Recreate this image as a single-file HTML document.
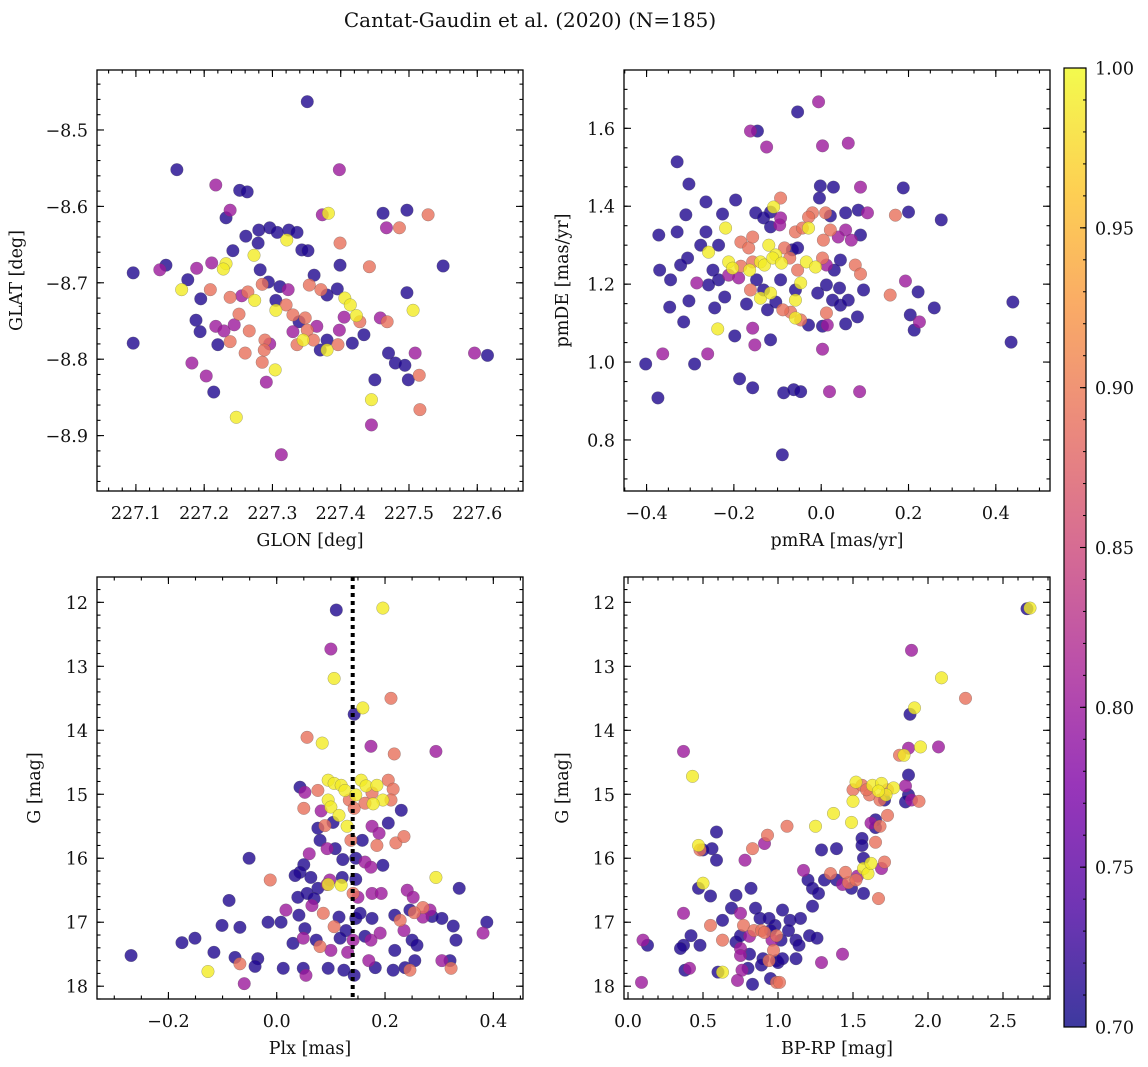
<!DOCTYPE html>
<html><head><meta charset="utf-8"><style>
html,body{margin:0;padding:0;background:#fff}
svg{display:block}
text{font-family:"DejaVu Serif","Liberation Serif",serif;fill:#111}
</style></head><body>
<svg id="fig" width="1148" height="1067" viewBox="0 0 1148 1067" xmlns="http://www.w3.org/2000/svg">
<defs>
<linearGradient id="cbgrad" x1="0" y1="1" x2="0" y2="0">
<stop offset="0" stop-color="#0d0887"/><stop offset="0.125" stop-color="#4c02a1"/><stop offset="0.25" stop-color="#7e03a8"/><stop offset="0.375" stop-color="#a92395"/><stop offset="0.5" stop-color="#cc4778"/><stop offset="0.625" stop-color="#e66c5c"/><stop offset="0.75" stop-color="#f89540"/><stop offset="0.875" stop-color="#fdc527"/><stop offset="1" stop-color="#f0f921"/>
</linearGradient>
</defs>
<text x="530" y="27" font-size="20" text-anchor="middle">Cantat-Gaudin et al. (2020) (N=185)</text>
</svg>
<script>
// ---- data (value units) ----
const skyData = [
[227.351,-8.463,0.71],[227.160,-8.552,0.71],[227.217,-8.572,0.80],[227.252,-8.579,0.71],[227.263,-8.581,0.71],[227.398,-8.552,0.80],[227.462,-8.609,0.71],[227.382,-8.609,0.99],[227.373,-8.611,0.80],[227.528,-8.611,0.89],
[227.238,-8.605,0.80],[227.232,-8.615,0.71],[227.261,-8.639,0.71],[227.280,-8.631,0.71],[227.296,-8.628,0.71],[227.324,-8.631,0.71],[227.336,-8.634,0.71],[227.307,-8.634,0.71],[227.321,-8.644,0.99],[227.399,-8.648,0.89],
[227.467,-8.628,0.80],[227.486,-8.628,0.89],[227.497,-8.605,0.71],[227.279,-8.648,0.71],[227.343,-8.657,0.71],[227.352,-8.658,0.71],[227.242,-8.658,0.71],[227.273,-8.664,0.99],[227.211,-8.674,0.80],[227.232,-8.675,0.99],
[227.228,-8.682,0.99],[227.189,-8.681,0.80],[227.144,-8.677,0.71],[227.096,-8.687,0.71],[227.096,-8.779,0.71],[227.135,-8.683,0.80],[227.167,-8.709,0.99],[227.176,-8.696,0.71],[227.209,-8.709,0.89],[227.195,-8.721,0.71],
[227.238,-8.719,0.89],[227.274,-8.723,0.99],[227.264,-8.712,0.89],[227.255,-8.717,0.80],[227.282,-8.683,0.71],[227.294,-8.699,0.71],[227.285,-8.702,0.89],[227.311,-8.705,0.71],[227.323,-8.709,0.80],[227.354,-8.703,0.89],
[227.361,-8.690,0.71],[227.371,-8.709,0.89],[227.380,-8.716,0.71],[227.399,-8.677,0.71],[227.395,-8.708,0.71],[227.406,-8.720,0.99],[227.414,-8.729,0.99],[227.423,-8.743,0.99],[227.405,-8.745,0.80],[227.442,-8.679,0.89],
[227.458,-8.746,0.80],[227.468,-8.751,0.89],[227.497,-8.713,0.71],[227.506,-8.736,0.99],[227.550,-8.678,0.71],[227.188,-8.749,0.71],[227.194,-8.764,0.71],[227.217,-8.757,0.80],[227.229,-8.763,0.80],[227.244,-8.755,0.80],
[227.251,-8.741,0.89],[227.266,-8.763,0.89],[227.289,-8.775,0.89],[227.288,-8.788,0.89],[227.296,-8.780,0.80],[227.305,-8.723,0.71],[227.305,-8.736,0.99],[227.320,-8.729,0.89],[227.330,-8.742,0.89],[227.339,-8.751,0.71],
[227.348,-8.746,0.89],[227.351,-8.762,0.89],[227.360,-8.775,0.89],[227.365,-8.757,0.80],[227.330,-8.764,0.80],[227.336,-8.781,0.89],[227.345,-8.775,0.99],[227.380,-8.775,0.71],[227.380,-8.788,0.99],[227.396,-8.781,0.89],
[227.398,-8.762,0.80],[227.428,-8.751,0.89],[227.434,-8.768,0.71],[227.238,-8.777,0.89],[227.260,-8.792,0.89],[227.285,-8.804,0.89],[227.304,-8.814,0.99],[227.291,-8.830,0.80],[227.220,-8.781,0.71],[227.182,-8.805,0.80],
[227.203,-8.822,0.80],[227.214,-8.843,0.71],[227.370,-8.788,0.71],[227.417,-8.779,0.71],[227.470,-8.792,0.71],[227.450,-8.827,0.71],[227.509,-8.792,0.80],[227.515,-8.821,0.89],[227.480,-8.805,0.71],[227.494,-8.808,0.71],
[227.499,-8.827,0.71],[227.516,-8.866,0.89],[227.596,-8.792,0.80],[227.615,-8.795,0.71],[227.445,-8.853,0.99],[227.445,-8.886,0.80],[227.247,-8.876,0.99],[227.313,-8.925,0.80]
];
const pmData = [
[-0.006,1.668,0.80],[-0.054,1.642,0.71],[0.003,1.555,0.80],[-0.162,1.593,0.80],[-0.146,1.593,0.71],[-0.125,1.552,0.80],[-0.330,1.514,0.71],[-0.303,1.457,0.71],[-0.264,1.411,0.71],[0.062,1.562,0.80],
[-0.002,1.452,0.71],[0.028,1.449,0.71],[0.090,1.449,0.80],[0.188,1.447,0.71],[-0.109,1.398,0.99],[-0.116,1.385,0.71],[-0.093,1.421,0.89],[-0.196,1.416,0.71],[-0.004,1.421,0.71],[0.085,1.390,0.71],
[0.200,1.385,0.71],[0.170,1.377,0.89],[0.106,1.383,0.80],[0.056,1.383,0.71],[-0.020,1.383,0.89],[-0.029,1.372,0.89],[0.010,1.383,0.89],[0.021,1.375,0.71],[-0.093,1.370,0.80],[-0.150,1.383,0.71],
[-0.132,1.370,0.71],[-0.226,1.380,0.71],[0.275,1.365,0.71],[-0.310,1.378,0.71],[-0.372,1.326,0.71],[-0.330,1.334,0.71],[-0.264,1.334,0.71],[-0.219,1.344,0.99],[-0.116,1.347,0.71],[-0.095,1.352,0.80],
[-0.059,1.334,0.89],[-0.043,1.344,0.89],[-0.029,1.344,0.99],[0.056,1.339,0.80],[0.021,1.339,0.89],[0.039,1.321,0.80],[0.069,1.313,0.80],[0.090,1.326,0.71],[0.005,1.313,0.89],[-0.276,1.300,0.71],
[-0.235,1.300,0.71],[-0.258,1.282,0.99],[-0.184,1.308,0.89],[-0.166,1.293,0.89],[-0.157,1.321,0.89],[-0.306,1.267,0.71],[-0.322,1.249,0.71],[-0.370,1.236,0.71],[-0.120,1.300,0.99],[-0.084,1.293,0.89],
[-0.104,1.275,0.99],[-0.066,1.288,0.71],[-0.054,1.293,0.71],[-0.139,1.257,0.99],[-0.130,1.249,0.99],[-0.111,1.267,0.99],[-0.091,1.254,0.99],[-0.072,1.267,0.89],[-0.054,1.236,0.89],[-0.034,1.257,0.99],
[-0.013,1.244,0.99],[0.003,1.267,0.89],[0.012,1.249,0.80],[0.044,1.262,0.71],[0.030,1.236,0.71],[0.078,1.249,0.89],[0.090,1.226,0.89],[-0.212,1.257,0.99],[-0.203,1.241,0.99],[-0.184,1.246,0.89],
[-0.164,1.236,0.99],[-0.157,1.257,0.89],[-0.212,1.223,0.80],[-0.189,1.216,0.80],[-0.248,1.236,0.71],[-0.235,1.211,0.71],[-0.258,1.198,0.71],[-0.345,1.211,0.71],[-0.285,1.203,0.80],[-0.148,1.211,0.71],
[-0.132,1.185,0.71],[-0.139,1.164,0.99],[-0.116,1.177,0.99],[-0.093,1.211,0.71],[-0.059,1.185,0.71],[-0.059,1.159,0.99],[-0.047,1.203,0.99],[-0.008,1.177,0.71],[0.012,1.198,0.71],[0.042,1.190,0.71],
[0.026,1.159,0.71],[0.044,1.146,0.71],[0.062,1.159,0.71],[0.097,1.185,0.71],[0.158,1.172,0.89],[0.193,1.208,0.80],[0.222,1.180,0.71],[0.204,1.121,0.71],[-0.162,1.185,0.89],[-0.221,1.167,0.71],
[-0.244,1.139,0.71],[-0.303,1.157,0.71],[-0.347,1.141,0.71],[-0.171,1.149,0.71],[-0.123,1.134,0.71],[-0.070,1.128,0.89],[-0.047,1.108,0.89],[-0.059,1.113,0.99],[-0.029,1.095,0.71],[0.012,1.126,0.89],
[-0.104,1.154,0.71],[-0.088,1.134,0.89],[0.003,1.092,0.71],[0.014,1.095,0.80],[0.083,1.116,0.71],[0.056,1.098,0.71],[-0.315,1.103,0.71],[-0.237,1.085,0.99],[-0.198,1.067,0.71],[-0.157,1.087,0.80],
[-0.116,1.057,0.71],[-0.152,1.044,0.80],[0.259,1.139,0.71],[0.213,1.082,0.71],[0.225,1.103,0.80],[-0.260,1.021,0.80],[-0.290,0.995,0.71],[-0.363,1.021,0.80],[-0.402,0.995,0.71],[-0.187,0.957,0.71],
[-0.157,0.934,0.71],[-0.086,0.921,0.71],[-0.063,0.929,0.71],[-0.047,0.924,0.71],[0.003,1.033,0.80],[0.019,0.924,0.80],[0.088,0.924,0.80],[0.439,1.154,0.71],[0.435,1.051,0.71],[-0.374,0.908,0.71],[-0.089,0.762,0.71]
];
const plxData = [
[0.110,12.12,0.71],[0.196,12.09,0.99],[0.100,12.73,0.80],[0.106,13.19,0.99],[0.211,13.50,0.89],[0.159,13.65,0.99],[0.143,13.75,0.71],[0.056,14.11,0.89],[0.084,14.20,0.99],[0.174,14.25,0.80],
[0.294,14.33,0.80],[0.217,14.37,0.89],[0.043,14.89,0.71],[0.052,14.97,0.80],[0.076,14.94,0.89],[0.095,14.78,0.99],[0.106,14.83,0.99],[0.119,14.86,0.99],[0.126,14.94,0.99],[0.146,15.01,0.99],
[0.156,14.78,0.99],[0.165,14.87,0.99],[0.134,15.09,0.89],[0.143,15.22,0.89],[0.163,15.14,0.89],[0.185,14.86,0.99],[0.206,14.78,0.89],[0.215,14.92,0.89],[0.196,15.09,0.99],[0.211,15.09,0.89],
[0.176,14.98,0.89],[0.178,15.15,0.99],[0.095,15.09,0.99],[0.100,15.20,0.99],[0.050,15.22,0.89],[0.082,15.26,0.80],[0.115,15.33,0.99],[0.230,15.25,0.71],[0.076,15.53,0.71],[0.089,15.49,0.89],
[0.104,15.44,0.71],[0.130,15.50,0.99],[0.176,15.50,0.80],[0.189,15.61,0.80],[0.185,15.80,0.89],[0.158,15.72,0.71],[0.137,15.72,0.89],[0.206,15.45,0.71],[0.080,15.72,0.71],[0.093,15.85,0.80],
[0.060,15.93,0.80],[0.220,15.76,0.89],[0.235,15.66,0.89],[0.108,15.85,0.71],[0.122,16.02,0.71],[0.146,16.00,0.71],[-0.051,16.00,0.71],[0.163,16.06,0.80],[0.174,16.14,0.80],[0.196,16.11,0.71],
[0.050,16.10,0.71],[0.043,16.22,0.71],[0.034,16.27,0.71],[0.063,16.30,0.71],[0.098,16.34,0.80],[0.121,16.30,0.71],[0.146,16.33,0.71],[0.076,16.47,0.71],[0.093,16.41,0.80],[-0.012,16.34,0.89],
[0.294,16.30,0.99],[0.095,16.41,0.99],[0.119,16.42,0.99],[0.141,16.55,0.89],[0.150,16.61,0.80],[0.039,16.61,0.71],[0.056,16.55,0.71],[0.069,16.63,0.71],[0.337,16.47,0.71],[0.241,16.50,0.80],
[0.252,16.61,0.80],[0.176,16.55,0.80],[0.193,16.55,0.80],[-0.088,16.66,0.71],[0.017,16.81,0.80],[0.065,16.74,0.80],[0.086,16.86,0.89],[0.270,16.77,0.89],[0.283,16.81,0.80],[0.246,16.81,0.71],
[0.254,16.85,0.89],[0.287,16.91,0.71],[0.305,16.94,0.71],[0.218,16.89,0.71],[0.228,16.97,0.89],[0.176,16.94,0.71],[0.146,16.94,0.71],[0.115,16.92,0.71],[0.154,16.86,0.71],[-0.016,17.00,0.71],
[0.008,17.00,0.71],[0.041,16.89,0.71],[0.106,17.07,0.89],[0.128,17.13,0.71],[0.052,17.10,0.71],[0.388,17.00,0.71],[0.270,16.92,0.80],[-0.101,17.05,0.71],[-0.068,17.08,0.71],[-0.151,17.25,0.71],
[-0.175,17.32,0.71],[0.326,17.06,0.71],[0.331,17.28,0.71],[0.049,17.25,0.80],[0.073,17.28,0.71],[0.080,17.38,0.89],[0.117,17.25,0.71],[0.141,17.28,0.80],[0.163,17.22,0.71],[0.174,17.28,0.80],
[0.191,17.17,0.80],[0.235,17.13,0.80],[0.250,17.28,0.71],[0.381,17.17,0.80],[-0.116,17.47,0.71],[-0.077,17.55,0.71],[-0.035,17.57,0.71],[0.030,17.33,0.71],[0.100,17.44,0.80],[0.131,17.47,0.80],
[0.170,17.60,0.80],[0.218,17.44,0.71],[0.259,17.36,0.71],[0.305,17.60,0.80],[0.320,17.60,0.71],[-0.068,17.65,0.89],[-0.040,17.69,0.71],[0.012,17.72,0.71],[0.049,17.72,0.71],[0.054,17.83,0.80],
[0.095,17.72,0.71],[0.124,17.75,0.71],[0.143,17.83,0.71],[0.182,17.71,0.71],[0.215,17.75,0.71],[0.237,17.71,0.71],[0.246,17.75,0.89],[0.255,17.60,0.71],[-0.269,17.52,0.71],[-0.127,17.77,0.99],
[-0.060,17.96,0.80],[0.322,17.72,0.89]
];
const cmdData = [
[2.66,12.10,0.71],[2.68,12.09,0.99],[1.89,12.75,0.80],[2.09,13.18,0.99],[2.25,13.50,0.89],[1.91,13.65,0.99],[1.88,13.75,0.71],[0.37,14.33,0.80],[0.43,14.72,0.99],[1.95,14.26,0.99],
[1.87,14.28,0.80],[1.84,14.39,0.99],[1.81,14.39,0.89],[1.87,14.70,0.71],[2.07,14.26,0.80],[1.52,14.81,0.99],[1.50,14.93,0.89],[1.50,15.11,0.99],[1.63,14.86,0.99],[1.61,15.01,0.89],
[1.69,14.83,0.99],[1.73,14.93,0.89],[1.77,14.90,0.99],[1.68,15.09,0.89],[1.72,15.01,0.99],[1.56,14.86,0.89],[1.59,14.93,0.89],[1.67,14.95,0.99],[1.87,15.01,0.71],[1.85,15.12,0.71],
[1.89,15.09,0.80],[1.85,14.87,0.80],[1.94,15.11,0.89],[1.37,15.30,0.99],[1.49,15.44,0.99],[1.71,15.09,0.71],[1.65,15.40,0.71],[1.73,15.33,0.89],[1.62,15.45,0.80],[1.68,15.50,0.89],
[1.65,15.52,0.71],[1.65,15.75,0.89],[1.06,15.50,0.89],[1.25,15.50,0.99],[0.93,15.64,0.89],[0.83,15.85,0.89],[0.78,16.03,0.80],[0.47,15.80,0.99],[0.59,15.59,0.71],[0.56,15.85,0.71],
[1.56,15.69,0.71],[1.71,16.06,0.89],[0.50,15.87,0.71],[0.59,16.03,0.71],[0.48,15.87,0.89],[1.29,15.87,0.71],[1.39,15.85,0.71],[1.56,15.80,0.71],[1.57,16.00,0.71],[1.57,16.16,0.99],
[1.53,16.28,0.80],[1.60,16.24,0.99],[1.62,16.08,0.99],[1.17,16.19,0.80],[0.91,15.77,0.80],[0.50,16.39,0.99],[0.47,16.47,0.71],[1.35,16.24,0.89],[1.39,16.34,0.71],[1.43,16.41,0.80],
[1.47,16.38,0.89],[1.52,16.34,0.89],[1.45,16.22,0.89],[1.69,16.16,0.80],[1.67,16.63,0.89],[1.57,16.55,0.71],[1.49,16.47,0.71],[1.20,16.34,0.71],[1.31,16.34,0.71],[1.23,16.47,0.71],
[1.27,16.55,0.71],[1.23,16.75,0.71],[0.55,16.59,0.71],[0.72,16.58,0.71],[0.82,16.47,0.71],[0.75,16.86,0.80],[0.69,16.78,0.71],[0.37,16.86,0.80],[0.10,17.28,0.80],[0.13,17.36,0.71],
[0.63,16.97,0.71],[0.85,16.78,0.71],[0.88,16.94,0.71],[0.94,16.94,0.71],[0.98,17.05,0.71],[1.03,16.81,0.71],[1.08,16.97,0.71],[1.15,16.94,0.71],[1.07,17.13,0.71],[0.95,17.13,0.71],
[0.99,17.21,0.89],[0.96,17.28,0.80],[1.02,17.28,0.71],[1.12,17.28,0.71],[1.14,17.36,0.71],[1.21,17.21,0.71],[1.26,17.25,0.71],[0.55,17.05,0.89],[0.77,17.05,0.89],[0.84,17.13,0.89],
[0.89,17.13,0.89],[0.91,17.16,0.89],[0.81,17.22,0.80],[0.42,17.21,0.71],[0.48,17.36,0.71],[0.63,17.28,0.89],[0.72,17.31,0.71],[0.75,17.21,0.71],[0.75,17.41,0.80],[0.97,17.44,0.89],
[0.81,17.50,0.71],[0.75,17.52,0.80],[0.90,17.57,0.71],[0.99,17.60,0.71],[1.29,17.63,0.80],[1.43,17.50,0.80],[0.94,17.60,0.89],[0.37,17.36,0.71],[0.35,17.41,0.71],[0.41,17.72,0.80],
[0.38,17.75,0.71],[0.60,17.78,0.71],[0.63,17.78,0.99],[0.76,17.75,0.80],[0.80,17.72,0.71],[0.89,17.67,0.71],[1.00,17.63,0.71],[1.03,17.57,0.71],[1.12,17.57,0.71],[0.73,17.91,0.80],
[0.83,17.97,0.71],[0.99,17.94,0.89],[1.01,17.94,0.89],[0.95,17.88,0.71],[0.09,17.94,0.80]
];
const plxCluster = 0.1403;
const glonTicks = [227.1,227.2,227.3,227.4,227.5,227.6];
const glatTicks = [-8.5,-8.6,-8.7,-8.8,-8.9];
const pmraTicks = [-0.4,-0.2,0.0,0.2,0.4];
const pmdeTicks = [0.8,1.0,1.2,1.4,1.6];
const plxTicks = [-0.2,0.0,0.2,0.4];
const gTicks = [12,13,14,15,16,17,18];
const bprpTicks = [0.0,0.5,1.0,1.5,2.0,2.5];
const cbTicks = [0.70,0.75,0.80,0.85,0.90,0.95,1.00];

// ---- helpers ----
const NS = 'http://www.w3.org/2000/svg';
const svg = document.getElementById('fig');
const FS = 17.5;
function mk(tag, attrs, parent){const e=document.createElementNS(NS,tag);for(const k in attrs)e.setAttribute(k,attrs[k]);(parent||svg).appendChild(e);return e;}
const stops=[[0,[13,8,135]],[0.125,[76,2,161]],[0.25,[126,3,168]],[0.375,[169,35,149]],[0.5,[204,71,120]],[0.625,[230,108,92]],[0.75,[248,149,64]],[0.875,[253,197,39]],[1,[240,249,33]]];
function plasma(v){let t=(v-0.7)/0.3;t=Math.max(0,Math.min(1,t));for(let i=1;i<stops.length;i++){if(t<=stops[i][0]){const a=stops[i-1],b=stops[i];const f=(t-a[0])/(b[0]-a[0]);const c=a[1].map((x,j)=>Math.round(x+(b[1][j]-x)*f));return 'rgb('+c.join(',')+')';}}return 'rgb(240,249,33)';}
function fmt(v,d){return (v<0?'\u2212':'')+Math.abs(v).toFixed(d);}

function panel(cfg){
  const g=mk('g',{});
  
  
  const L=cfg.L,R=cfg.R,T=cfg.T,B=cfg.B;
  const sx=v=>L+(v-cfg.x0)/(cfg.x1-cfg.x0)*(R-L);
  const sy=v=>cfg.yinv? T+(v-cfg.y0)/(cfg.y1-cfg.y0)*(B-T) : B-(v-cfg.y0)/(cfg.y1-cfg.y0)*(B-T);
  const pts=cfg.data.slice().sort((a,b)=>a[2]-b[2]);
  const pg=mk('g',{},g);
  
  
  pts.forEach(p=>{
    const c=mk('circle',{cx:sx(p[0]),cy:sy(p[1]),r:6.3,fill:plasma(p[2]),'fill-opacity':0.8,stroke:'#555','stroke-opacity':0.5,'stroke-width':0.5},pg);
    
    
  });
  if(cfg.vline!==undefined){
    const l=mk('line',{x1:sx(cfg.vline),x2:sx(cfg.vline),y1:T,y2:B,stroke:'#000','stroke-width':4,'stroke-dasharray':'4,4'},g);
    
    
  }
  const fr=mk('rect',{x:L,y:T,width:R-L,height:B-T,fill:'none',stroke:'#000','stroke-width':1.3},g);
  
  
  const tg=mk('g',{stroke:'#000','stroke-width':1.1},g);
  const minorX=[],minorY=[];
  for(let v=Math.ceil(cfg.x0/cfg.mx)*cfg.mx;v<=cfg.x1;v+=cfg.mx)minorX.push(v);
  for(let v=Math.ceil(Math.min(cfg.y0,cfg.y1)/cfg.my)*cfg.my;v<=Math.max(cfg.y0,cfg.y1);v+=cfg.my)minorY.push(v);
  minorX.forEach(v=>{const x=sx(v);mk('line',{x1:x,x2:x,y1:B,y2:B-3.5},tg);mk('line',{x1:x,x2:x,y1:T,y2:T+3.5},tg);});
  minorY.forEach(v=>{const y=sy(v);mk('line',{x1:L,x2:L+3.5,y1:y,y2:y},tg);mk('line',{x1:R,x2:R-3.5,y1:y,y2:y},tg);});
  const xl=mk('g',{},g);
  
  
  cfg.xt.forEach(v=>{const x=sx(v);mk('line',{x1:x,x2:x,y1:B,y2:B-7},tg);mk('line',{x1:x,x2:x,y1:T,y2:T+7},tg);
    const t=mk('text',{x:x,y:B+28,'font-size':FS,'text-anchor':'middle'},xl);t.textContent=fmt(v,cfg.xd);});
  const yl=mk('g',{},g);
  
  
  cfg.yt.forEach(v=>{const y=sy(v);mk('line',{x1:L,x2:L+7,y1:y,y2:y},tg);mk('line',{x1:R,x2:R-7,y1:y,y2:y},tg);
    const t=mk('text',{x:L-9,y:y+6.5,'font-size':FS,'text-anchor':'end'},yl);t.textContent=fmt(v,cfg.yd);});
  const xt=mk('text',{x:(L+R)/2,y:B+55,'font-size':FS,'text-anchor':'middle'},g);xt.textContent=cfg.xlabel;
  
  
  const yx=cfg.ylx, yc=(T+B)/2;
  const yt=mk('text',{x:yx,y:yc,'font-size':FS,'text-anchor':'middle',transform:'rotate(-90 '+yx+' '+yc+')'},g);yt.textContent=cfg.ylabel;
  
  
}

panel({name:'sky-position-panel',data:skyData,L:97,R:523,T:70,B:491,x0:227.043,x1:227.667,y0:-8.9725,y1:-8.4215,xt:glonTicks,yt:glatTicks,mx:0.02,my:0.02,xd:1,yd:1,xlabel:'GLON [deg]',ylabel:'GLAT [deg]',ylx:22});
panel({name:'proper-motion-panel',data:pmData,L:624,R:1050,T:70,B:491,x0:-0.4517,x1:0.5241,y0:0.669,y1:1.7497,xt:pmraTicks,yt:pmdeTicks,mx:0.05,my:0.05,xd:1,yd:1,xlabel:'pmRA [mas/yr]',ylabel:'pmDE [mas/yr]',ylx:568});
panel({name:'parallax-panel',data:plxData,L:97,R:523,T:577,B:999,x0:-0.3319,x1:0.4548,y0:11.604,y1:18.2,yinv:true,xt:plxTicks,yt:gTicks,mx:0.05,my:0.2,xd:1,yd:0,xlabel:'Plx [mas]',ylabel:'G [mag]',ylx:40,vline:plxCluster});
panel({name:'color-magnitude-panel',data:cmdData,L:624,R:1050,T:577,B:999,x0:-0.0267,x1:2.8133,y0:11.604,y1:18.2,yinv:true,xt:bprpTicks,yt:gTicks,mx:0.1,my:0.2,xd:1,yd:0,xlabel:'BP-RP [mag]',ylabel:'G [mag]',ylx:568});

(function(){
  const cb=mk('g',{});
  
  
  const L=1064,R=1086,T=68,B=1027;
  mk('rect',{x:L,y:T,width:R-L,height:B-T,fill:'url(#cbgrad)','fill-opacity':0.8,stroke:'#000','stroke-width':1.2},cb);
  const cy=v=>B-(v-0.7)/0.3*(B-T);
  for(let v=0.70;v<=1.0001;v+=0.01){const y=cy(v);mk('line',{x1:R,x2:R-3,y1:y,y2:y,stroke:'#000','stroke-width':1},cb);}
  cbTicks.forEach(v=>{const y=cy(v);mk('line',{x1:R,x2:R-6,y1:y,y2:y,stroke:'#000','stroke-width':1.1},cb);
    const t=mk('text',{x:R+9,y:y+6.5,'font-size':FS},cb);t.textContent=v.toFixed(2);
    
    });
})();
</script>
</body></html>
